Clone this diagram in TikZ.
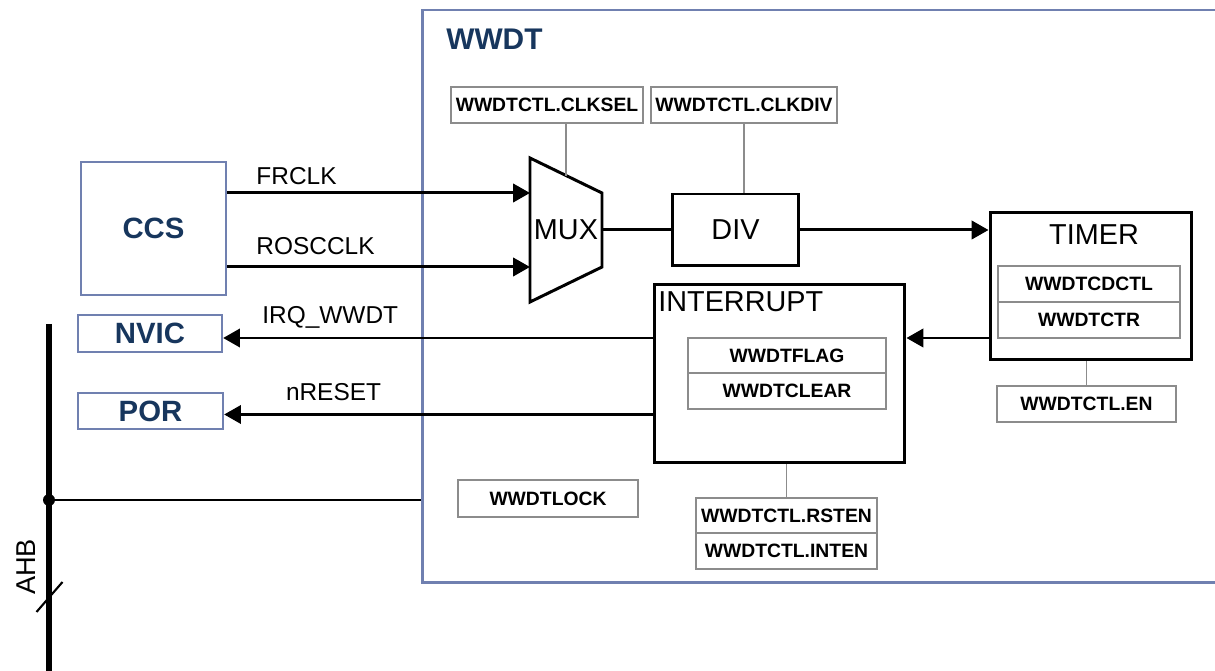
\documentclass[tikz,border=0pt]{standalone}
\usepackage{fontspec}
\setmainfont{Liberation Sans}
\usetikzlibrary{arrows.meta, positioning, calc}
\definecolor{slateblue}{RGB}{112,128,176}
\definecolor{navytext}{RGB}{23,54,93}
\definecolor{reggray}{RGB}{140,140,140}

\begin{document}
\begin{tikzpicture}[x=0.02cm, y=-0.02cm]
        \tikzstyle{bluebox} = [rectangle, draw=slateblue, line width=1.3pt, inner sep=0pt, text=navytext, font=\bfseries\fontsize{16.7}{20}\selectfont]
        \tikzstyle{blockbox} = [rectangle, draw=black, line width=1.7pt, inner sep=0pt, font=\fontsize{16.4}{20}\selectfont]
        \tikzstyle{regbox} = [rectangle, draw=reggray, line width=0.7pt, inner sep=0pt, outer sep=0pt, font=\bfseries\fontsize{11}{13}\selectfont]
        \tikzstyle{tie} = [draw=reggray, line width=0.7pt]
        \tikzstyle{wire} = [line width=1.7pt]
        \tikzstyle{arrow} = [line width=1.7pt, -{Triangle[length=9.6pt, width=10.4pt]}]
        \tikzstyle{siglabel} = [inner sep=0pt, anchor=base west, font=\fontsize{13.9}{16}\selectfont]
        \tikzstyle{blocklabel} = [inner sep=0pt, font=\fontsize{16.4}{20}\selectfont]

        \useasboundingbox (0,0) rectangle (1215,671);

        \node (wwdt) [bluebox, minimum width=16.35cm, minimum height=11.45cm] at (831.25,296.25) {};
        \node (wwdtlbl) [anchor=base west, inner sep=0pt, text=navytext, font=\bfseries\fontsize{17}{20}\selectfont] at (446,50) {WWDT};

        \node (ccs) [bluebox, minimum width=2.9cm, minimum height=2.66cm] at (153.5,228.5) {CCS};
        \node (nvic) [bluebox, minimum width=2.88cm, minimum height=0.74cm] at (150,333.5) {NVIC};
        \node (por) [bluebox, minimum width=2.9cm, minimum height=0.72cm] at (150.5,411) {POR};

        \coordinate (muxtl) at (530,158);
        \coordinate (muxtr) at (602,193);
        \coordinate (muxbr) at (602,267);
        \coordinate (muxbl) at (530,302);
        \coordinate (muxin1) at (530,193);
        \coordinate (muxin2) at (530,267);
        \coordinate (muxout) at (602,230);
        \coordinate (muxsel) at (566,176);
        \draw [wire] (muxtl) -- (muxtr) -- (muxbr) -- (muxbl) -- cycle;
        \node (mux) [blocklabel, anchor=base] at (566,240) {MUX};

        \node (clksel) [regbox, minimum width=3.84cm, minimum height=0.72cm] at (547,105) {WWDTCTL.CLKSEL};
        \node (clkdiv) [regbox, minimum width=3.72cm, minimum height=0.72cm] at (744,105) {WWDTCTL.CLKDIV};
        \node (div) [blockbox, minimum width=2.54cm, minimum height=1.44cm] at (735.5,230) {DIV};
        \node (timer) [blockbox, minimum width=4.04cm, minimum height=2.96cm] at (1091,286) {};
        \node (timerlbl) [blocklabel, anchor=base] at (1094,245) {TIMER};
        \node (cdctl) [regbox, minimum width=3.64cm, minimum height=0.72cm] at (1089,284) {WWDTCDCTL};
        \node (ctr) [regbox, minimum width=3.64cm, minimum height=0.72cm, below=0pt of cdctl] {WWDTCTR};
        \node (en) [regbox, minimum width=3.58cm, minimum height=0.72cm] at (1086.5,404) {WWDTCTL.EN};
        \node (intr) [blockbox, minimum width=5.02cm, minimum height=3.58cm] at (779.5,373.5) {};
        \node (intrlbl) [blocklabel, anchor=base west] at (658,312) {INTERRUPT};
        \node (flag) [regbox, minimum width=3.96cm, minimum height=0.7cm] at (787,355.5) {WWDTFLAG};
        \node (clear) [regbox, minimum width=3.96cm, minimum height=0.72cm, below=0pt of flag] {WWDTCLEAR};
        \node (lock) [regbox, minimum width=3.6cm, minimum height=0.74cm] at (548,498.5) {WWDTLOCK};
        \node (rsten) [regbox, minimum width=3.62cm, minimum height=0.7cm] at (786.5,515.5) {WWDTCTL.RSTEN};
        \node (inten) [regbox, minimum width=3.62cm, minimum height=0.72cm, below=0pt of rsten] {WWDTCTL.INTEN};

        \coordinate (ahbtop) at (49,324);
        \coordinate (ahbbot) at (49,690);
        \coordinate (ahbcut) at (49.5,597);
        \draw [line width=3.4pt] (ahbtop) -- (ahbbot);
        \node (ahbdot) [circle, fill=black, inner sep=0pt, minimum size=0.24cm] at (49,500) {};
        \draw [line width=1.2pt] ($(ahbcut)+(-13,15)$) -- ($(ahbcut)+(13,-15)$);
        \node (ahblbl) [rotate=90, inner sep=0pt, font=\fontsize{15.5}{18}\selectfont] at (26,567) {AHB};
        \draw [wire] (ahbdot) -- (ahbdot -| wwdt.west);

        \draw [arrow] (ccs.east |- muxin1) -- node (frclk) [siglabel, pos=0.092, yshift=5.1pt] {FRCLK} (muxin1);
        \draw [arrow] (ccs.east |- muxin2) -- node (roscclk) [siglabel, pos=0.092, yshift=7pt] {ROSCCLK} (muxin2);
        \draw [wire] (muxout) -- (div.west);
        \draw [arrow] (div.east) -- (div.east -| timer.west);
        \draw [arrow] (timer.west |- flag.north) -- (intr.east |- flag.north);
        \draw [arrow] (intr.west |- flag.north) -- node (irq) [siglabel, pos=0.912, yshift=8.5pt] {IRQ\_WWDT} (nvic.east |- flag.north);
        \coordinate (rstout) at ($(intr.west)+(0,41)$);
        \draw [arrow] (rstout) -- node (nreset) [siglabel, pos=0.859, yshift=8pt] {nRESET} (rstout -| por.east);

        \draw [tie] (muxsel |- clksel.south) -- (muxsel);
        \draw [tie] (clkdiv.south) -- (clkdiv.south |- div.north);
        \draw [tie] (en.north) -- (en.north |- timer.south);
        \draw [tie] (rsten.north) -- (rsten.north |- intr.south);
    \end{tikzpicture}
\end{document}
